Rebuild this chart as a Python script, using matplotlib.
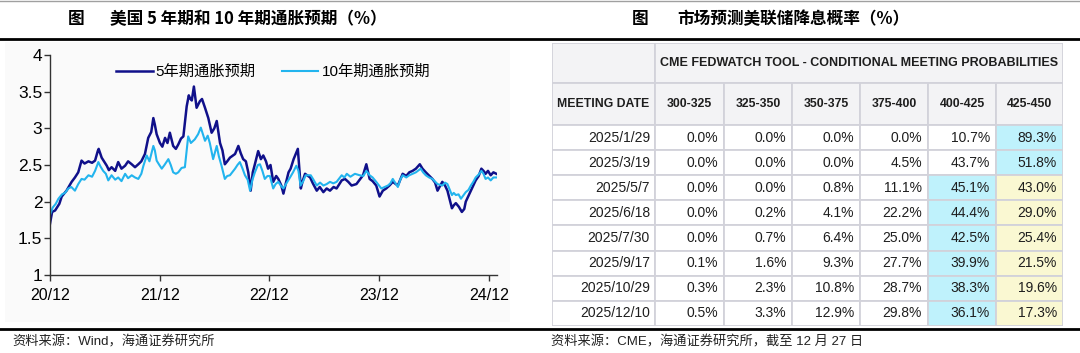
import matplotlib.pyplot as plt
import matplotlib.dates as mdates
import pandas as pd
from matplotlib.patches import Rectangle
from matplotlib.lines import Line2D

plt.rcParams['font.family'] = ['Liberation Sans', 'Noto Sans CJK SC']

# ---- left chart data: US 5y / 10y breakeven inflation (%)
dates_5y = ['2020-12-01', '2020-12-08', '2020-12-18', '2021-01-01', '2021-01-09', '2021-01-25',
            '2021-02-11', '2021-02-22', '2021-03-05', '2021-03-16', '2021-03-26', '2021-04-08',
            '2021-04-20', '2021-04-30', '2021-05-09', '2021-05-12', '2021-05-22', '2021-06-08',
            '2021-06-15', '2021-06-24', '2021-07-06', '2021-07-16', '2021-07-27', '2021-08-08',
            '2021-08-18', '2021-08-30', '2021-09-10', '2021-09-21', '2021-10-01', '2021-10-13',
            '2021-10-24', '2021-11-03', '2021-11-10', '2021-11-15', '2021-11-21', '2021-12-02',
            '2021-12-10', '2021-12-19', '2021-12-27', '2022-01-04', '2022-01-15', '2022-01-24',
            '2022-02-01', '2022-02-10', '2022-02-18', '2022-03-01', '2022-03-08', '2022-03-12',
            '2022-03-18', '2022-03-25', '2022-04-03', '2022-04-14', '2022-04-21', '2022-05-01',
            '2022-05-12', '2022-05-23', '2022-06-01', '2022-06-09', '2022-06-20', '2022-06-28',
            '2022-07-06', '2022-07-14', '2022-07-23', '2022-08-09', '2022-08-20', '2022-08-28',
            '2022-09-05', '2022-09-14', '2022-09-22', '2022-09-30', '2022-10-07', '2022-10-14',
            '2022-10-25', '2022-11-03', '2022-11-11', '2022-11-20', '2022-11-27', '2022-12-05',
            '2022-12-14', '2022-12-24', '2022-12-31', '2023-01-10', '2023-01-17', '2023-01-25',
            '2023-02-03', '2023-02-10', '2023-02-20', '2023-03-06', '2023-03-16', '2023-03-22',
            '2023-03-30', '2023-04-16', '2023-04-25', '2023-05-08', '2023-05-18', '2023-05-30',
            '2023-06-10', '2023-06-21', '2023-07-03', '2023-07-13', '2023-07-30', '2023-08-10',
            '2023-08-21', '2023-09-01', '2023-09-17', '2023-09-28', '2023-10-09', '2023-10-20',
            '2023-10-31', '2023-11-10', '2023-11-22', '2023-12-03', '2023-12-14', '2023-12-25',
            '2024-01-05', '2024-01-16', '2024-02-02', '2024-02-18', '2024-03-01', '2024-03-11',
            '2024-03-22', '2024-04-02', '2024-04-15', '2024-04-24', '2024-05-05', '2024-05-17',
            '2024-05-27', '2024-06-05', '2024-06-13', '2024-06-29', '2024-07-08', '2024-07-16',
            '2024-07-31', '2024-08-06', '2024-08-13', '2024-08-23', '2024-09-02', '2024-09-10',
            '2024-09-15', '2024-09-24', '2024-10-02', '2024-10-10', '2024-10-18', '2024-10-28',
            '2024-11-06', '2024-11-13', '2024-11-20', '2024-11-28', '2024-12-07', '2024-12-16',
            '2024-12-26']
be_5y = [1.70, 1.86, 1.88, 1.97, 2.07, 2.15, 2.27, 2.33, 2.40, 2.56, 2.52, 2.55,
         2.53, 2.56, 2.69, 2.72, 2.60, 2.49, 2.43, 2.47, 2.42, 2.54, 2.45, 2.49,
         2.55, 2.51, 2.47, 2.51, 2.55, 2.65, 2.87, 2.95, 3.14, 3.05, 2.92, 2.80,
         2.75, 2.87, 2.80, 2.94, 2.76, 2.72, 2.78, 2.86, 2.89, 3.30, 3.45, 3.41,
         3.38, 3.57, 3.28, 3.37, 3.40, 3.28, 3.14, 2.94, 3.00, 3.10, 2.80, 2.70,
         2.51, 2.55, 2.60, 2.65, 2.76, 2.66, 2.58, 2.55, 2.40, 2.15, 2.40, 2.51,
         2.69, 2.58, 2.63, 2.55, 2.45, 2.50, 2.27, 2.35, 2.31, 2.22, 2.11, 2.25,
         2.40, 2.45, 2.58, 2.72, 2.18, 2.28, 2.38, 2.33, 2.25, 2.15, 2.20, 2.13,
         2.18, 2.15, 2.20, 2.18, 2.29, 2.31, 2.27, 2.22, 2.24, 2.30, 2.36, 2.51,
         2.31, 2.28, 2.22, 2.07, 2.15, 2.18, 2.22, 2.27, 2.22, 2.38, 2.35, 2.40,
         2.42, 2.45, 2.51, 2.45, 2.40, 2.35, 2.31, 2.26, 2.15, 2.27, 2.22, 2.15,
         1.91, 1.95, 1.98, 1.93, 1.86, 1.90, 2.00, 2.08, 2.15, 2.22, 2.29, 2.35,
         2.45, 2.42, 2.38, 2.42, 2.36, 2.40, 2.38]

dates_10y = ['2020-12-01', '2020-12-10', '2020-12-20', '2020-12-29', '2021-01-10', '2021-01-20',
             '2021-01-31', '2021-02-10', '2021-02-22', '2021-03-05', '2021-03-16', '2021-03-26',
             '2021-04-08', '2021-04-20', '2021-04-30', '2021-05-11', '2021-05-18', '2021-05-27',
             '2021-06-05', '2021-06-13', '2021-06-24', '2021-07-06', '2021-07-16', '2021-07-27',
             '2021-08-08', '2021-08-18', '2021-08-30', '2021-09-10', '2021-09-21', '2021-10-01',
             '2021-10-08', '2021-10-19', '2021-10-28', '2021-11-10', '2021-11-15', '2021-11-21',
             '2021-11-30', '2021-12-08', '2021-12-17', '2021-12-30', '2022-01-07', '2022-01-15',
             '2022-01-24', '2022-02-01', '2022-02-12', '2022-02-23', '2022-03-06', '2022-03-15',
             '2022-03-28', '2022-04-08', '2022-04-17', '2022-04-24', '2022-05-01', '2022-05-10',
             '2022-05-17', '2022-05-28', '2022-06-09', '2022-06-16', '2022-06-25', '2022-07-06',
             '2022-07-14', '2022-07-23', '2022-08-09', '2022-08-17', '2022-08-25', '2022-09-03',
             '2022-09-11', '2022-09-20', '2022-09-28', '2022-10-06', '2022-10-14', '2022-10-24',
             '2022-10-31', '2022-11-08', '2022-11-16', '2022-11-25', '2022-12-03', '2022-12-14',
             '2022-12-22', '2022-12-31', '2023-01-08', '2023-01-17', '2023-01-27', '2023-02-08',
             '2023-02-18', '2023-03-01', '2023-03-08', '2023-03-15', '2023-03-24', '2023-04-01',
             '2023-04-18', '2023-04-27', '2023-05-08', '2023-05-19', '2023-05-30', '2023-06-10',
             '2023-06-21', '2023-07-02', '2023-07-13', '2023-07-30', '2023-08-08', '2023-08-16',
             '2023-08-28', '2023-09-12', '2023-09-28', '2023-10-10', '2023-10-20', '2023-10-31',
             '2023-11-10', '2023-11-22', '2023-12-09', '2023-12-20', '2023-12-31', '2024-01-08',
             '2024-01-16', '2024-02-02', '2024-02-10', '2024-02-18', '2024-03-01', '2024-03-11',
             '2024-03-22', '2024-04-02', '2024-04-18', '2024-04-26', '2024-05-05', '2024-05-16',
             '2024-05-27', '2024-06-06', '2024-06-13', '2024-06-29', '2024-07-08', '2024-07-16',
             '2024-07-31', '2024-08-06', '2024-08-13', '2024-08-22', '2024-08-30', '2024-09-06',
             '2024-09-15', '2024-09-24', '2024-10-02', '2024-10-10', '2024-10-18', '2024-10-28',
             '2024-11-06', '2024-11-13', '2024-11-20', '2024-11-28', '2024-12-07', '2024-12-16',
             '2024-12-26']
be_10y = [1.82, 1.92, 1.97, 2.04, 2.10, 2.12, 2.18, 2.20, 2.15, 2.24, 2.31, 2.30,
          2.36, 2.34, 2.42, 2.54, 2.48, 2.42, 2.38, 2.29, 2.36, 2.30, 2.33, 2.28,
          2.38, 2.32, 2.36, 2.33, 2.31, 2.38, 2.49, 2.63, 2.55, 2.76, 2.70, 2.56,
          2.50, 2.45, 2.50, 2.58, 2.50, 2.40, 2.38, 2.40, 2.46, 2.47, 2.89, 2.80,
          2.85, 2.92, 3.01, 2.92, 2.83, 2.90, 2.80, 2.58, 2.76, 2.62, 2.49, 2.31,
          2.35, 2.36, 2.45, 2.50, 2.54, 2.45, 2.36, 2.30, 2.15, 2.30, 2.40, 2.50,
          2.51, 2.42, 2.31, 2.35, 2.35, 2.18, 2.24, 2.27, 2.22, 2.18, 2.25, 2.33,
          2.40, 2.49, 2.42, 2.22, 2.28, 2.36, 2.36, 2.30, 2.22, 2.26, 2.22, 2.24,
          2.27, 2.25, 2.27, 2.36, 2.33, 2.38, 2.34, 2.38, 2.36, 2.35, 2.42, 2.36,
          2.33, 2.27, 2.18, 2.20, 2.22, 2.25, 2.31, 2.20, 2.30, 2.36, 2.33, 2.36,
          2.38, 2.40, 2.45, 2.40, 2.36, 2.33, 2.31, 2.27, 2.24, 2.22, 2.26, 2.24,
          2.09, 2.12, 2.09, 2.10, 2.04, 2.08, 2.13, 2.16, 2.22, 2.27, 2.33, 2.37,
          2.42, 2.38, 2.31, 2.33, 2.29, 2.33, 2.33]

x_ticks = ['2020-12-01', '2021-12-01', '2022-12-01', '2023-12-01', '2024-12-01']

# ---- right table data: CME FedWatch probabilities (%)
meeting_dates = ['2025/1/29', '2025/3/19', '2025/5/7', '2025/6/18',
                 '2025/7/30', '2025/9/17', '2025/10/29', '2025/12/10']
rate_ranges = ['300-325', '325-350', '350-375', '375-400', '400-425', '425-450']
probs = [[0.0, 0.0, 0.0, 0.0, 10.7, 89.3],
         [0.0, 0.0, 0.0, 4.5, 43.7, 51.8],
         [0.0, 0.0, 0.8, 11.1, 45.1, 43.0],
         [0.0, 0.2, 4.1, 22.2, 44.4, 29.0],
         [0.0, 0.7, 6.4, 25.0, 42.5, 25.4],
         [0.1, 1.6, 9.3, 27.7, 39.9, 21.5],
         [0.3, 2.3, 10.8, 28.7, 38.3, 19.6],
         [0.5, 3.3, 12.9, 29.8, 36.1, 17.3]]
current_range = '425-450'

W, H = 1080, 353
fig = plt.figure(figsize=(W / 100, H / 100), dpi=100)


def fx(px):
    return px / W


def fy(py):
    return 1 - py / H


# header / footer rules
fig.add_artist(Line2D([0, 1], [fy(1), fy(1)], color='#a0a0a0', lw=1.0))
fig.add_artist(Line2D([0, 1], [fy(38.5), fy(38.5)], color='black', lw=2.0))
fig.add_artist(Line2D([0, 1], [fy(328.5), fy(328.5)], color='black', lw=2.0))

title_font = ['Noto Sans CJK SC']
fig.text(fx(68), fy(19), '图', fontsize=12, fontweight='bold', family=title_font, va='center')
fig.text(fx(110), fy(19), '美国 5 年期和 10 年期通胀预期（%）', fontsize=12,
         fontweight='bold', family=title_font, va='center')
fig.text(fx(632), fy(19), '图', fontsize=12, fontweight='bold', family=title_font, va='center')
fig.text(fx(677), fy(19), '市场预测美联储降息概率（%）', fontsize=12,
         fontweight='bold', family=title_font, va='center')

src_font = ['Liberation Sans', 'Noto Sans CJK SC']
fig.text(fx(12), fy(342), '资料来源：Wind，海通证券研究所', fontsize=9.5,
         family=src_font, va='center', color='#222222')
fig.text(fx(551), fy(342), '资料来源：CME，海通证券研究所，截至 12 月 27 日', fontsize=9.5,
         family=src_font, va='center', color='#222222')

# light panel behind the line chart
fig.add_artist(Rectangle((fx(5), fy(322)), fx(510) - fx(5), fy(42) - fy(322),
                         transform=fig.transFigure, facecolor='#fafafa',
                         edgecolor='none', zorder=0))

# ---- line chart
ax = fig.add_axes([fx(50), fy(275), fx(497) - fx(50), fy(55) - fy(275)])
ax.set_facecolor('none')
ax.plot(pd.to_datetime(dates_5y), be_5y, color='#10108a', lw=1.8, label='5年期通胀预期')
ax.plot(pd.to_datetime(dates_10y), be_10y, color='#22b4ee', lw=1.5, label='10年期通胀预期')
ax.set_ylim(1, 4)
ax.set_xlim(pd.Timestamp('2020-12-01'), pd.Timestamp('2024-12-28'))
ax.set_yticks([1, 1.5, 2, 2.5, 3, 3.5, 4])
ax.set_yticklabels(['1', '1.5', '2', '2.5', '3', '3.5', '4'])
ax.set_xticks(pd.to_datetime(x_ticks))
ax.xaxis.set_major_formatter(mdates.DateFormatter('%y/%m'))
for s in ['top', 'right']:
    ax.spines[s].set_visible(False)
for s in ['left', 'bottom']:
    ax.spines[s].set_color('#333333')
    ax.spines[s].set_linewidth(1.0)
ax.tick_params(axis='y', length=4, width=1, color='#333333', labelsize=12.5, pad=1.5)
ax.tick_params(axis='x', length=4, width=1, color='#333333', labelsize=11.5, pad=5)
ax.legend(loc='center', bbox_to_anchor=(0.499, 0.923), ncol=2, frameon=False,
          fontsize=11, handlelength=2.4, handletextpad=0.2, columnspacing=1.7)

# ---- table
col_w = [103, 69, 68, 68, 68, 68, 67]
head_h = [40, 42]
row_h = 25.1
tab_w = sum(col_w)
tab_h = sum(head_h) + row_h * len(meeting_dates)
tx = fig.add_axes([fx(552), fy(43 + tab_h), fx(552 + tab_w) - fx(552), fy(43) - fy(43 + tab_h)])
tx.set_xlim(0, tab_w)
tx.set_ylim(tab_h, 0)
tx.axis('off')

grid_c = '#d2d2da'
head_bg = '#f3f3f5'
max_bg = '#bff2fc'
cur_bg = '#faf8d2'
txt_c = '#1e1e1e'
col_x = [sum(col_w[:i]) for i in range(len(col_w) + 1)]


def cell(x0, y0, w, h, fc):
    tx.add_patch(Rectangle((x0, y0), w, h, facecolor=fc, edgecolor=grid_c, lw=1.3))


# header row 1
cell(0, 0, col_w[0], head_h[0], head_bg)
cell(col_x[1], 0, tab_w - col_x[1], head_h[0], head_bg)
tx.text((col_x[1] + tab_w) / 2, head_h[0] / 2, 'CME FEDWATCH TOOL - CONDITIONAL MEETING PROBABILITIES',
        ha='center', va='center', fontsize=9, fontweight='bold', color=txt_c)
# header row 2
y0 = head_h[0]
cell(0, y0, col_w[0], head_h[1], head_bg)
tx.text(col_w[0] / 2, y0 + head_h[1] / 2, 'MEETING DATE', ha='center', va='center',
        fontsize=8.8, fontweight='bold', color=txt_c)
for j, rr in enumerate(rate_ranges):
    cell(col_x[j + 1], y0, col_w[j + 1], head_h[1], head_bg)
    tx.text(col_x[j + 1] + col_w[j + 1] / 2, y0 + head_h[1] / 2, rr, ha='center', va='center',
            fontsize=8.8, fontweight='bold', color=txt_c)

# body
cur_idx = rate_ranges.index(current_range)
for i, (md, row) in enumerate(zip(meeting_dates, probs)):
    y0 = sum(head_h) + i * row_h
    cell(0, y0, col_w[0], row_h, 'white')
    tx.text(col_x[1] - 5, y0 + row_h / 2, md, ha='right', va='center', fontsize=10, color=txt_c)
    top = row.index(max(row))
    for j, v in enumerate(row):
        fc = 'white'
        if j == top:
            fc = max_bg
        elif j == cur_idx:
            fc = cur_bg
        cell(col_x[j + 1], y0, col_w[j + 1], row_h, fc)
        tx.text(col_x[j + 2] - 6, y0 + row_h / 2, f'{v:.1f}%', ha='right', va='center',
                fontsize=10, color=txt_c)

fig.savefig('out.png', dpi=100)
